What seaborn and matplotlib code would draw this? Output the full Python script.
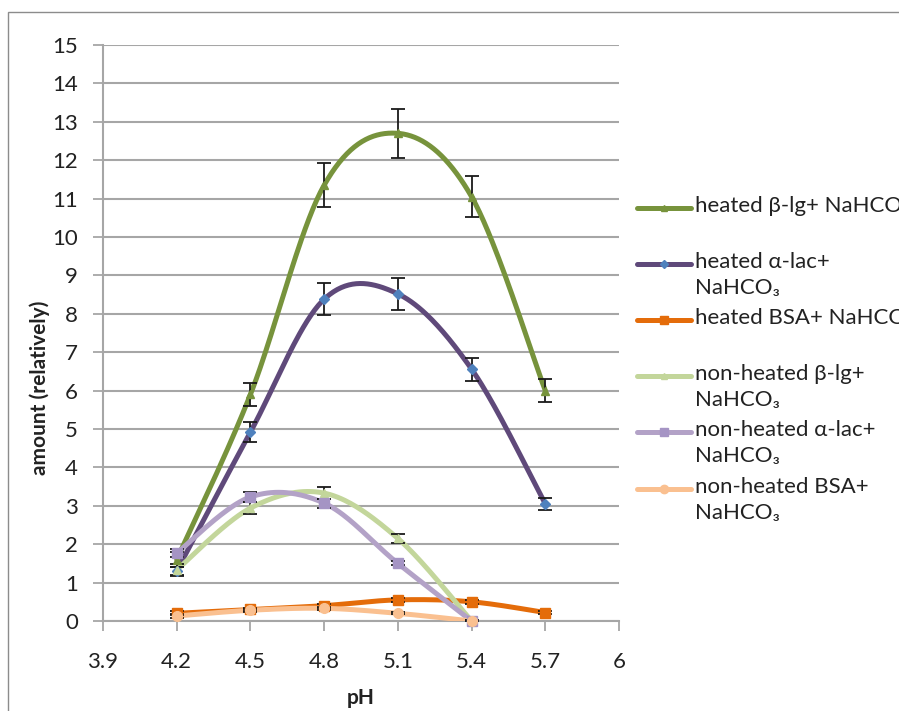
import numpy as np
import pandas as pd
import matplotlib
matplotlib.use("Agg")
import matplotlib.pyplot as plt
from matplotlib.lines import Line2D
from matplotlib.patches import Rectangle
import seaborn as sns

sns.set_theme(style="white")
plt.rcParams["font.family"] = ["Lato", "DejaVu Sans"]

# pH values measured
ph = [4.2, 4.5, 4.8, 5.1, 5.4, 5.7]

heated_blg = [1.6, 5.9, 11.35, 12.7, 11.05, 6.0]
heated_blg_err = [0.2, 0.3, 0.57, 0.64, 0.53, 0.3]
heated_alac = [1.3, 4.92, 8.38, 8.52, 6.56, 3.05]
heated_alac_err = [0.1, 0.25, 0.42, 0.42, 0.3, 0.15]
heated_bsa = [0.2, 0.3, 0.4, 0.55, 0.5, 0.22]
heated_bsa_err = [0.05, 0.05, 0.05, 0.05, 0.05, 0.04]

nh_ph = [4.2, 4.5, 4.8, 5.1, 5.4]
nh_blg = [1.33, 2.94, 3.33, 2.15, 0.0]
nh_blg_err = [0.15, 0.15, 0.15, 0.12, 0.02]
nh_alac = [1.77, 3.23, 3.07, 1.5, 0.0]
nh_alac_err = [0.1, 0.12, 0.12, 0.05, 0.02]
nh_bsa = [0.13, 0.28, 0.33, 0.2, 0.0]
nh_bsa_err = [0.04, 0.04, 0.04, 0.03, 0.02]

labels = ["heated β-lg+ NaHCO₃", "heated α-lac+\nNaHCO₃", "heated BSA+ NaHCO₃",
          "non-heated β-lg+\nNaHCO₃", "non-heated α-lac+\nNaHCO₃", "non-heated BSA+\nNaHCO₃"]
colors = ["#77933C", "#5F497A", "#E46C0A", "#C3D69B", "#B3A2C7", "#FAC090"]
marker_faces = ["#77933C", "#4F81BD", "#E46C0A", "#C3D69B", "#A594C4", "#FAC090"]
markers = ["^", "D", "s", "^", "s", "o"]
msizes = [6, 5, 7, 6, 7, 7]

series = [
    (ph, heated_blg, heated_blg_err),
    (ph, heated_alac, heated_alac_err),
    (ph, heated_bsa, heated_bsa_err),
    (nh_ph, nh_blg, nh_blg_err),
    (nh_ph, nh_alac, nh_alac_err),
    (nh_ph, nh_bsa, nh_bsa_err),
]

X_SCALE = 73.6 / 0.3   # px per pH unit
Y_SCALE = 38.4         # px per amount unit


def smooth(xs, ys, n=40):
    """Bezier smoothing through the points (control arms of 1/6 chord)."""
    P = np.column_stack([np.asarray(xs) * X_SCALE, np.asarray(ys) * Y_SCALE])
    m = len(P)
    out = []
    t = np.linspace(0, 1, n)[:, None]
    for i in range(m - 1):
        p0, p3 = P[i], P[i + 1]
        pm = P[i - 1] if i > 0 else P[i]
        pp = P[i + 2] if i + 2 < m else P[i + 1]
        c1 = p0 + (p3 - pm) / 6.0
        c2 = p3 - (pp - p0) / 6.0
        seg = ((1 - t) ** 3) * p0 + 3 * ((1 - t) ** 2) * t * c1 + 3 * (1 - t) * t ** 2 * c2 + t ** 3 * p3
        out.append(seg if i == 0 else seg[1:])
    S = np.vstack(out)
    return S[:, 0] / X_SCALE, S[:, 1] / Y_SCALE


fig = plt.figure(figsize=(8.99, 7.11), dpi=100)
ax = fig.add_axes([103 / 899, 1 - 621 / 711, (619 - 103) / 899, (621 - 45) / 711])

grid_c = "#A6A6A6"
text_c = "#222222"
ax.set_xlim(3.9, 6.0)
ax.set_ylim(0, 15)
ax.set_yticks(range(0, 16))
ax.set_xticks([3.9, 4.2, 4.5, 4.8, 5.1, 5.4, 5.7, 6.0])
ax.set_xticklabels(["3.9", "4.2", "4.5", "4.8", "5.1", "5.4", "5.7", "6"])
ax.yaxis.grid(True, color=grid_c, lw=1.5)
ax.set_axisbelow(True)
for s in ["top", "right"]:
    ax.spines[s].set_visible(False)
for s in ["left", "bottom"]:
    ax.spines[s].set_color(grid_c)
    ax.spines[s].set_linewidth(1.5)
ax.tick_params(axis="both", direction="out", length=7, width=1.3, color=grid_c,
               labelsize=16, labelcolor=text_c, left=True, bottom=True)
ax.tick_params(axis="y", pad=11)
ax.tick_params(axis="x", pad=15)

for (xs, ys, es), c, mf, mk, ms in zip(series, colors, marker_faces, markers, msizes):
    sx, sy = smooth(xs, ys)
    df = pd.DataFrame({"pH": sx, "amount": sy})
    sns.lineplot(data=df, x="pH", y="amount", color=c, lw=3.6, ax=ax, sort=False,
                 solid_capstyle="round", zorder=3)
    ax.errorbar(xs, ys, yerr=es, fmt="none", ecolor="#1a1a1a", elinewidth=1.3,
                capsize=5, capthick=1.3, zorder=4)
    ax.plot(xs, ys, ls="none", marker=mk, ms=ms, mfc=mf, mec=mf, zorder=5,
            clip_on=False)

ax.set_xlabel("pH", fontsize=15, fontweight="bold", color=text_c)
ax.xaxis.set_label_coords(0.5, (621 - 698) / 576, transform=ax.transAxes)
ax.xaxis.label.set_va("center")
ax.set_ylabel("amount (relatively)", fontsize=15, fontweight="bold", color=text_c)
ax.yaxis.set_label_coords((40 - 103) / 516, (621 - 388) / 576, transform=ax.transAxes)
ax.yaxis.label.set_va("center")

# legend drawn by hand: each entry gets two text lines, handle on the first
leg_y = [208, 264, 320, 376, 432, 489]
for lab, c, mf, mk, ms, yp in zip(labels, colors, marker_faces, markers, msizes, leg_y):
    yf = 1 - yp / 711
    fig.add_artist(Line2D([637 / 899, 691 / 899], [yf, yf], color=c, lw=3.6,
                          solid_capstyle="round", transform=fig.transFigure))
    fig.add_artist(Line2D([664 / 899], [yf], ls="none", marker=mk, ms=ms - 1,
                          mfc=mf, mec=mf, transform=fig.transFigure))
    fig.text(695 / 899, yf + 12 / 711, lab, fontsize=16, color=text_c, va="top",
             ha="left", linespacing=1.35, transform=fig.transFigure)

# thin chart-area border
fig.add_artist(Rectangle((8 / 899, -0.05), 1.2, 1.05 - 12 / 711, transform=fig.transFigure,
                         fill=False, ec="#8C8C8C", lw=1.0))

fig.savefig("out.png", dpi=100)
